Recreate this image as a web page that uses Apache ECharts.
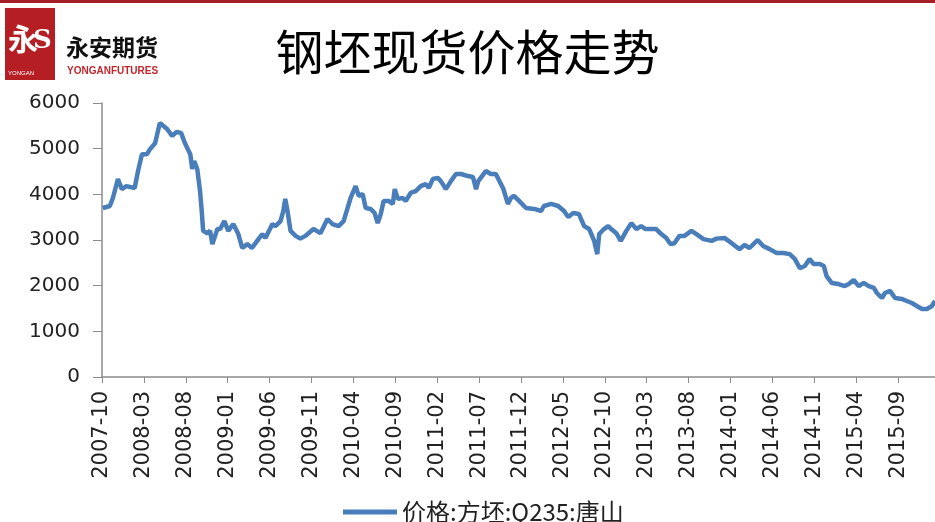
<!DOCTYPE html>
<html>
<head>
<meta charset="utf-8">
<script src="https://cdn.jsdelivr.net/npm/echarts@6/dist/echarts.min.js"></script>
<style>
html,body{margin:0;padding:0;background:#fff;}
#chart{width:935px;height:522px;}
</style>
</head>
<body>
<div id="chart"></div>
<script>
// ---- data ----
var chartTitle = '钢坯现货价格走势';
var seriesName = '价格:方坯:Q235:唐山';
var startYear = 2007, startMonth = 10;       // first month on the x axis
var xMaxDate = '2016-01-13';                 // right edge of the plot
var yTicks = [0, 1000, 2000, 3000, 4000, 5000, 6000];

var dates = [
'2007-10-04','2007-10-29','2007-11-10','2007-11-28','2007-12-12','2007-12-28','2008-01-28','2008-02-10','2008-02-24','2008-03-12',
'2008-03-23','2008-04-11','2008-04-28','2008-05-24','2008-06-12','2008-06-28','2008-07-14','2008-07-28','2008-08-17','2008-08-24',
'2008-09-01','2008-09-12','2008-09-22','2008-09-28','2008-10-03','2008-10-18','2008-10-28','2008-11-06','2008-11-24','2008-12-04',
'2008-12-19','2009-01-03','2009-01-21','2009-02-09','2009-02-23','2009-03-11','2009-03-28','2009-04-21','2009-05-05','2009-05-16',
'2009-06-11','2009-06-22','2009-07-10','2009-07-20','2009-07-27','2009-08-05','2009-08-16','2009-09-04','2009-09-21','2009-10-09',
'2009-10-17','2009-11-08','2009-12-03','2009-12-28','2010-01-16','2010-02-08','2010-02-26','2010-03-10','2010-03-21','2010-04-09',
'2010-04-20','2010-05-04','2010-05-15','2010-06-03','2010-06-17','2010-06-28','2010-07-09','2010-07-19','2010-08-07','2010-08-22',
'2010-08-29','2010-09-10','2010-09-28','2010-10-08','2010-10-26','2010-11-14','2010-12-02','2010-12-20','2011-01-01','2011-01-15',
'2011-02-03','2011-02-14','2011-03-02','2011-03-20','2011-04-08','2011-04-26','2011-05-21','2011-06-09','2011-06-20','2011-06-28',
'2011-07-25','2011-08-13','2011-09-01','2011-09-19','2011-09-28','2011-10-14','2011-10-25','2011-11-06','2011-11-24','2011-12-19',
'2012-01-18','2012-02-13','2012-02-23','2012-03-19','2012-04-14','2012-05-05','2012-05-20','2012-06-08','2012-06-28','2012-07-17',
'2012-08-05','2012-08-23','2012-09-04','2012-09-11','2012-09-28','2012-10-13','2012-10-24','2012-11-12','2012-11-28','2012-12-18',
'2013-01-06','2013-01-24','2013-02-11','2013-02-27','2013-03-17','2013-04-05','2013-04-23','2013-05-11','2013-05-26','2013-06-10',
'2013-06-28','2013-07-16','2013-08-11','2013-08-29','2013-09-24','2013-10-23','2013-11-11','2013-12-09','2014-01-05','2014-02-03',
'2014-02-21','2014-03-09','2014-04-08','2014-04-28','2014-05-21','2014-06-16','2014-07-11','2014-08-03','2014-08-21','2014-09-09',
'2014-09-27','2014-10-14','2014-10-28','2014-11-20','2014-12-05','2014-12-15','2015-01-03','2015-01-28','2015-02-20','2015-03-04',
'2015-03-22','2015-04-10','2015-04-28','2015-05-16','2015-06-04','2015-06-15','2015-07-03','2015-07-14','2015-08-02','2015-08-20',
'2015-09-14','2015-10-02','2015-10-20','2015-11-08','2015-11-26','2015-12-14','2016-01-02','2016-01-13'
];
var prices = [
3700,3745,3920,4335,4115,4180,4140,4510,4880,4880,
4990,5120,5560,5430,5280,5365,5345,5120,4880,4555,
4730,4555,4070,3635,3200,3150,3200,2910,3240,3240,
3415,3200,3350,3130,2825,2910,2825,3020,3130,3045,
3350,3305,3415,3635,3900,3635,3200,3090,3030,3090,
3130,3240,3150,3460,3350,3305,3415,3700,3920,4180,
3965,4005,3700,3680,3590,3370,3570,3855,3855,3790,
4115,3900,3920,3855,4030,4070,4180,4225,4140,4335,
4360,4290,4115,4290,4445,4445,4400,4380,4115,4290,
4510,4445,4445,4225,4115,3790,3920,3965,3855,3700,
3680,3635,3745,3790,3745,3635,3505,3590,3570,3305,
3240,2980,2690,3130,3240,3305,3240,3150,2980,3200,
3370,3240,3305,3240,3240,3240,3130,3045,2910,2930,
3090,3090,3200,3130,3020,2980,3030,3045,2930,2800,
2890,2825,3000,2870,2800,2715,2715,2690,2585,2385,
2430,2585,2475,2475,2430,2210,2060,2035,1990,2035,
2125,1990,2060,1990,1950,1840,1730,1840,1885,1730,
1710,1665,1620,1555,1490,1490,1555,1665
];

// months elapsed since the first month of the axis
function monthsSinceStart(d) {
  var p = d.split('-');
  return (+p[0] - startYear) * 12 + (+p[1] - startMonth) + (+p[2] - 1) / 30;
}
function monthLabel(v) {
  var idx = startMonth - 1 + Math.round(v);
  var y = startYear + Math.floor(idx / 12);
  var m = idx % 12 + 1;
  return y + '-' + (m < 10 ? '0' + m : m);
}
var seriesData = dates.map(function (d, i) { return [monthsSinceStart(d), prices[i]]; });

var chart = echarts.init(document.getElementById('chart'));
chart.setOption({
  backgroundColor: '#ffffff',
  animation: false,
  title: {
    text: chartTitle,
    left: 'center',
    top: 23,
    textStyle: { fontFamily: 'Noto Sans CJK SC', fontSize: 48, fontWeight: 'normal', color: '#000' }
  },
  graphic: [
    { type: 'rect', shape: { x: 0, y: 0, width: 935, height: 3 }, style: { fill: '#a51d25' } },
    { type: 'rect', shape: { x: 5, y: 8, width: 50, height: 72 }, style: { fill: '#b51f24' } },
    { type: 'text', style: { x: 8, y: 24, text: '永', fill: '#fff', font: 'bold 30px "Noto Sans CJK SC"' } },
    { type: 'text', style: { x: 33, y: 28, text: 'S', fill: '#fff', font: 'bold 26px "DejaVu Serif"' } },
    { type: 'text', style: { x: 8, y: 70, text: 'YONGAN', fill: '#fff', font: '6px "Liberation Sans"' } },
    { type: 'text', style: { x: 66, y: 36, text: '永安期货', fill: '#111', font: 'bold 23px "Noto Sans CJK SC"' } },
    { type: 'text', style: { x: 67, y: 66, text: 'YONGANFUTURES', fill: '#c0272d', font: 'bold 10px "Liberation Sans"' } }
  ],
  legend: {
    data: [seriesName],
    left: 338,
    top: 495,
    icon: 'rect',
    itemWidth: 54,
    itemHeight: 5,
    itemGap: 4,
    textStyle: { fontFamily: 'Noto Sans CJK SC', fontSize: 24, color: '#222' }
  },
  grid: { left: 102, right: 0, top: 103, bottom: 145, containLabel: false },
  xAxis: {
    type: 'value',
    min: 0,
    max: monthsSinceStart(xMaxDate),
    interval: 5,
    splitLine: { show: false },
    axisLine: { lineStyle: { color: '#8c8c8c', width: 1.5 } },
    axisTick: { show: true, length: 6, lineStyle: { color: '#8c8c8c' } },
    axisLabel: {
      rotate: 90,
      margin: 14,
      fontSize: 21,
      fontFamily: 'DejaVu Sans',
      color: '#222',
      showMaxLabel: false,
      formatter: function (v) { return (Math.abs(v - Math.round(v)) < 1e-6 && Math.round(v) % 5 === 0) ? monthLabel(v) : ''; }
    }
  },
  yAxis: {
    type: 'value',
    min: yTicks[0],
    max: yTicks[yTicks.length - 1],
    interval: 1000,
    splitLine: { show: false },
    axisLine: { show: true, lineStyle: { color: '#8c8c8c', width: 1.5 } },
    axisTick: { show: true, length: 9, lineStyle: { color: '#8c8c8c' } },
    axisLabel: { fontSize: 20, fontFamily: 'DejaVu Sans', color: '#222', margin: 22, formatter: function (v) { return String(v); } }
  },
  series: [{
    name: seriesName,
    type: 'line',
    data: seriesData,
    showSymbol: false,
    smooth: false,
    lineStyle: { color: '#4a7ebb', width: 4.5 },
    itemStyle: { color: '#4a7ebb' }
  }]
});
</script>
</body>
</html>
